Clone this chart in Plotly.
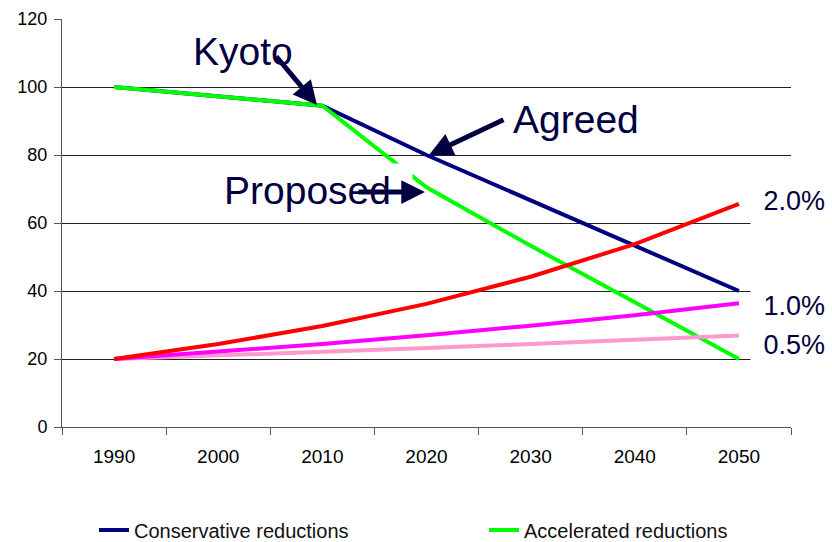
import plotly.graph_objects as go

years = ["1990", "2000", "2010", "2020", "2030", "2040", "2050"]
conservative = [100, 97.2, 94.5, 80, 66.7, 53.3, 40]
accelerated = [100, 97.2, 94.5, 70.5, 53.3, 36.7, 20]
growth_2_0 = [20, 24.4, 29.7, 36.2, 44.2, 53.8, 65.6]
growth_1_0 = [20, 22.1, 24.4, 27.0, 29.8, 32.9, 36.4]
growth_0_5 = [20, 21.0, 22.1, 23.2, 24.4, 25.6, 26.9]
y_ticks = [0, 20, 40, 60, 80, 100, 120]

FONT = "Liberation Sans, Arial, sans-serif"
ANN = "#000040"

fig = go.Figure()
fig.add_trace(go.Scatter(x=years, y=conservative, mode="lines", name="Conservative reductions",
                         legend="legend", line=dict(color="#000080", width=4)))
fig.add_trace(go.Scatter(x=years, y=accelerated, mode="lines", name="Accelerated reductions",
                         legend="legend2", line=dict(color="#00FF00", width=4)))
fig.add_trace(go.Scatter(x=years, y=growth_0_5, mode="lines", name="0.5%", showlegend=False,
                         line=dict(color="#FF99CC", width=4)))
fig.add_trace(go.Scatter(x=years, y=growth_1_0, mode="lines", name="1.0%", showlegend=False,
                         line=dict(color="#FF00FF", width=4)))
fig.add_trace(go.Scatter(x=years, y=growth_2_0, mode="lines", name="2.0%", showlegend=False,
                         line=dict(color="#FF0000", width=4)))

W, H = 832, 542
L, R, T, B = 62, 41, 19, 115
pw, ph = W - L - R, H - T - B

def px(x):
    return (x - L) / pw

def py(y):
    return (H - B - y) / ph

annotations = []
# text labels
annotations.append(dict(text="Kyoto", x=px(243), y=py(51), xref="paper", yref="paper",
                        xanchor="center", yanchor="middle",
                        showarrow=False, font=dict(size=39, color=ANN, family=FONT)))
annotations.append(dict(text="Agreed", x=px(576), y=py(119), xref="paper", yref="paper",
                        xanchor="center", yanchor="middle",
                        showarrow=False, font=dict(size=39, color=ANN, family=FONT)))
annotations.append(dict(text="Proposed", x=px(221), y=py(190), xref="paper", yref="paper",
                        xanchor="left", yanchor="middle", showarrow=False, bgcolor="white",
                        width=186, height=48, align="left", borderpad=2,
                        font=dict(size=39, color=ANN, family=FONT)))
for txt, yc in [("2.0%", 201), ("1.0%", 306), ("0.5%", 345)]:
    annotations.append(dict(text=txt, x=px(750), y=py(yc), xref="paper", yref="paper",
                            xanchor="left", yanchor="middle", showarrow=False, bgcolor="white",
                            width=68, height=36, align="right", borderpad=6,
                            font=dict(size=27, color=ANN, family=FONT)))
# arrows
for tip, tail in [((317, 105), (275, 55)), ((429, 155), (505, 119)), ((425, 192), (357, 192))]:
    annotations.append(dict(text="", x=px(tip[0]), y=py(tip[1]), xref="paper", yref="paper",
                            ax=tail[0] - tip[0], ay=tail[1] - tip[1], showarrow=True,
                            arrowhead=2, arrowsize=0.95, arrowwidth=5, arrowcolor=ANN, standoff=0))

legend_font = dict(size=20, color="#111111", family=FONT)
fig.update_layout(
    width=W, height=H,
    margin=dict(l=L, r=R, t=T, b=B, autoexpand=False),
    paper_bgcolor="white", plot_bgcolor="white",
    font=dict(family=FONT, size=18, color="black"),
    showlegend=True,
    legend=dict(x=px(94), y=py(530), xanchor="left", yanchor="middle",
                font=legend_font, bgcolor="rgba(0,0,0,0)"),
    legend2=dict(x=px(484), y=py(530), xanchor="left", yanchor="middle",
                 font=legend_font, bgcolor="rgba(0,0,0,0)"),
    annotations=annotations,
)
fig.update_xaxes(type="category", range=[-0.5, 6.5], showgrid=False, showline=True,
                 linecolor="#555555", linewidth=1,
                 ticks="outside", tickson="boundaries", ticklen=7, tickcolor="#555555",
                 ticklabelstandoff=12,
                 tickfont=dict(size=19, family=FONT), zeroline=False, fixedrange=True)
fig.update_yaxes(range=[0, 120], tickvals=y_ticks, showgrid=True, gridcolor="#222222", gridwidth=1,
                 showline=True, linecolor="#555555", linewidth=1, ticks="outside", ticklen=7,
                 tickcolor="#555555", ticklabelstandoff=3,
                 tickfont=dict(size=18, family=FONT), zeroline=False,
                 fixedrange=True)

fig.write_html("out.html", config={"displayModeBar": False},
               post_script="document.body.style.margin='0px';document.body.style.padding='0px';")
